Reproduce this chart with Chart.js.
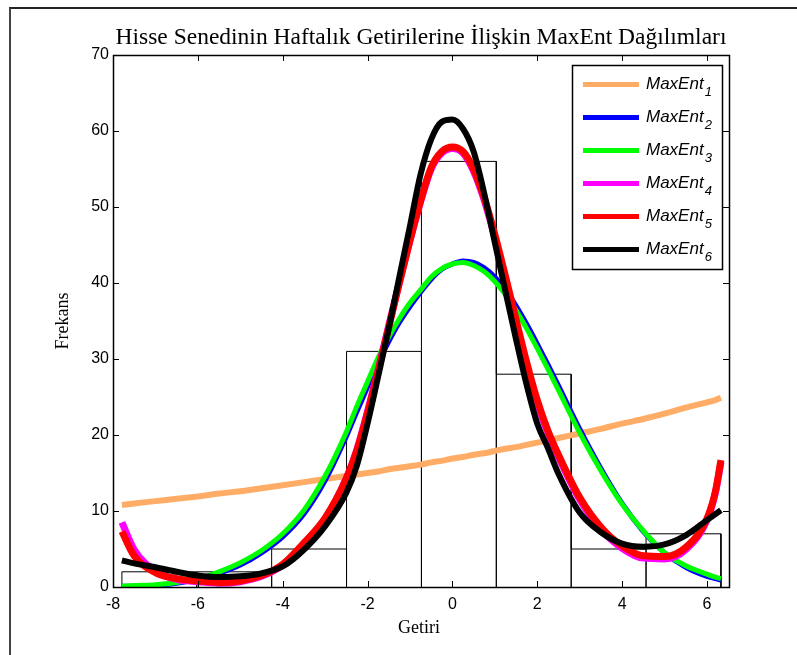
<!DOCTYPE html>
<html>
<head>
<meta charset="utf-8">
<script src="https://cdn.jsdelivr.net/npm/chart.js@4/dist/chart.umd.min.js"></script>
<style>
  html, body { margin: 0; padding: 0; background: #fff; }
  #wrap { position: relative; width: 797px; height: 655px; overflow: hidden; background: #fff; }
  #frame { position: absolute; left: 9px; top: 7px; width: 800px; height: 660px;
           border-left: 2px solid #444; border-top: 2px solid #222; }
  #c { position: absolute; left: 0; top: 0; }
</style>
</head>
<body>
<div id="wrap">
  <div id="frame"></div>
  <canvas id="c" width="797" height="655"></canvas>
</div>
<script>
// Weekly returns grid (Getiri) on which each MaxEnt density is evaluated
const xs = [-7.79, -7.5, -7, -6.5, -6, -5.5, -5, -4.5, -4, -3.5, -3, -2.5, -2.25, -2, -1.75, -1.5, -1.25, -1,
            -0.75, -0.5, -0.25, 0, 0.25, 0.5, 0.75, 1, 1.25, 1.5, 1.75, 2, 2.25, 2.5, 3, 3.5, 4, 4.5, 5, 5.5, 6, 6.2, 6.33];

// Fitted MaxEnt frequency curves
const maxEnt1 = [10.8, 11.0, 11.3, 11.6, 11.9, 12.3, 12.6, 13.0, 13.4, 13.8, 14.2, 14.6, 14.8, 15.0, 15.2, 15.5, 15.7, 15.9,
                 16.1, 16.4, 16.6, 16.9, 17.1, 17.4, 17.6, 17.9, 18.2, 18.4, 18.7, 19.0, 19.3, 19.6, 20.2, 20.8, 21.5, 22.1, 22.8, 23.6, 24.3, 24.6, 24.9];
const maxEnt2 = [0.1, 0.1, 0.2, 0.5, 1.0, 1.8, 2.9, 4.5, 6.6, 9.6, 14.0, 19.8, 23.1, 26.3, 29.5, 32.3, 34.8, 36.9,
                 38.8, 40.5, 41.8, 42.5, 42.9, 42.7, 42.0, 40.8, 39.1, 37.0, 34.6, 32.0, 29.3, 26.5, 20.8, 15.6, 11.0, 7.3, 4.5, 2.6, 1.4, 1.1, 0.9];
const maxEnt3 = [0.1, 0.2, 0.3, 0.6, 1.1, 2.0, 3.2, 4.8, 7.0, 10.1, 14.6, 20.4, 23.8, 27.0, 30.2, 32.9, 35.3, 37.4,
                 39.1, 40.8, 41.9, 42.5, 42.7, 42.3, 41.5, 40.2, 38.5, 36.4, 34.0, 31.4, 28.7, 25.9, 20.3, 15.3, 10.9, 7.4, 4.5, 2.8, 1.7, 1.3, 1.1];
const maxEnt4 = [8.5, 4.9, 2.1, 1.0, 0.7, 0.5, 0.7, 1.4, 2.9, 5.7, 9.0, 14.3, 18.1, 23.1, 28.6, 34.4, 40.1, 45.6,
                 50.7, 55.0, 57.1, 57.7, 57.1, 54.7, 50.9, 46.0, 40.5, 34.8, 29.2, 24.2, 20.3, 17.1, 11.5, 7.6, 5.1, 3.8, 3.7, 4.9, 8.8, 12.4, 16.4];
const maxEnt5 = [7.3, 4.1, 1.9, 1.1, 0.8, 0.6, 0.8, 1.5, 3.0, 5.8, 9.1, 14.3, 18.0, 22.9, 28.4, 34.2, 40.0, 45.6,
                 50.8, 55.2, 57.3, 57.9, 57.3, 55.0, 51.2, 46.4, 40.9, 35.2, 29.6, 24.6, 20.6, 17.4, 11.8, 7.9, 5.4, 4.1, 4.0, 5.2, 9.0, 12.6, 16.7];
const maxEnt6 = [3.5, 3.1, 2.6, 2.0, 1.5, 1.3, 1.4, 1.8, 2.7, 4.9, 8.0, 12.4, 16.0, 21.5, 27.7, 34.0, 40.8, 47.5,
                 54.3, 58.9, 61.2, 61.5, 60.3, 57.3, 51.8, 45.3, 38.9, 32.6, 26.6, 21.5, 18.3, 14.9, 9.8, 7.2, 5.7, 5.3, 5.6, 6.8, 8.8, 9.6, 10.1];

// Histogram of observed weekly returns
const binEdges  = [-7.79, -6.025, -4.26, -2.495, -0.73, 1.035, 2.8, 4.565, 6.33];
const binCounts = [2, 2, 5, 31, 56, 28, 5, 7];

// Axis ticks
const xTicks = [-8, -6, -4, -2, 0, 2, 4, 6];
const yTicks = [0, 10, 20, 30, 40, 50, 60, 70];

// Texts
const titleText = 'Hisse Senedinin Haftalık Getirilerine İlişkin MaxEnt Dağılımları';
const xTitle = 'Getiri';
const yTitle = 'Frekans';
const legendBase = 'MaxEnt';
const legendSubs = ['1', '2', '3', '4', '5', '6'];

const curveValues = [maxEnt1, maxEnt2, maxEnt3, maxEnt4, maxEnt5, maxEnt6];
const curveColors = ['#FFAD66', '#0000FF', '#00FF00', '#FF00FF', '#FF0000', '#000000'];
const curveWidths = [6, 5, 5, 7, 7, 6];

// Outline of the histogram bars as one polyline
function histogramOutline() {
  const pts = [{ x: binEdges[0], y: 0 }];
  for (let i = 0; i < binCounts.length; i++) {
    pts.push({ x: binEdges[i], y: binCounts[i] });
    pts.push({ x: binEdges[i + 1], y: binCounts[i] });
    pts.push({ x: binEdges[i + 1], y: 0 });
  }
  return pts;
}

const datasets = [{
  label: 'Histogram',
  data: histogramOutline(),
  borderColor: '#000',
  borderWidth: 1,
  pointRadius: 0,
  tension: 0,
  fill: false,
  order: 10
}];
curveValues.forEach((vals, i) => {
  datasets.push({
    label: legendBase + legendSubs[i],
    data: xs.map((x, k) => ({ x: x, y: vals[k] })),
    borderColor: curveColors[i],
    borderWidth: curveWidths[i],
    pointRadius: 0,
    cubicInterpolationMode: 'monotone',
    borderJoinStyle: 'round',
    fill: false,
    order: 6 - i
  });
});

// Frame: box around the plot with inward ticks on all four sides
const boxTicks = {
  id: 'boxTicks',
  afterDatasetsDraw(chart) {
    const { ctx, chartArea: a, scales } = chart;
    const len = 6;
    ctx.save();
    ctx.strokeStyle = '#000';
    ctx.lineWidth = 1;
    ctx.beginPath();
    xTicks.forEach(v => {
      const px = Math.round(scales.x.getPixelForValue(v)) + 0.5;
      ctx.moveTo(px, a.bottom); ctx.lineTo(px, a.bottom - len);
      ctx.moveTo(px, a.top); ctx.lineTo(px, a.top + len);
    });
    yTicks.forEach(v => {
      const py = Math.round(scales.y.getPixelForValue(v)) + 0.5;
      ctx.moveTo(a.left, py); ctx.lineTo(a.left + len, py);
      ctx.moveTo(a.right, py); ctx.lineTo(a.right - len, py);
    });
    ctx.stroke();
    ctx.lineWidth = 1.5;
    ctx.strokeRect(Math.round(a.left) + 0.5, Math.round(a.top) + 0.5,
                   Math.round(a.right - a.left), Math.round(a.bottom - a.top));
    ctx.restore();
  }
};

// Legend box in the upper right corner with subscripted entries
const maxEntLegend = {
  id: 'maxEntLegend',
  afterDraw(chart) {
    const { ctx, chartArea: a } = chart;
    const boxW = 150, boxH = 204;
    const bx = a.right - 7 - boxW, by = a.top + 10;
    ctx.save();
    ctx.fillStyle = '#fff';
    ctx.fillRect(bx, by, boxW, boxH);
    ctx.strokeStyle = '#000';
    ctx.lineWidth = 1.5;
    ctx.strokeRect(bx + 0.5, by + 0.5, boxW, boxH);
    const step = 33;
    for (let i = 0; i < legendSubs.length; i++) {
      const cy = by + 19.5 + i * step;
      ctx.strokeStyle = curveColors[i];
      ctx.lineWidth = 5;
      ctx.beginPath();
      ctx.moveTo(bx + 11, cy);
      ctx.lineTo(bx + 67, cy);
      ctx.stroke();
      ctx.fillStyle = '#000';
      ctx.textBaseline = 'alphabetic';
      ctx.textAlign = 'left';
      ctx.font = 'italic 17px "Liberation Sans", Arial, sans-serif';
      const tx = bx + 74;
      ctx.fillText(legendBase, tx, cy + 4);
      const w = ctx.measureText(legendBase).width;
      ctx.font = 'italic 13px "Liberation Sans", Arial, sans-serif';
      ctx.fillText(legendSubs[i], tx + w + 1, cy + 11);
    }
    ctx.restore();
  }
};

// Title and axis titles in serif type
const serifTitles = {
  id: 'serifTitles',
  afterDraw(chart) {
    const { ctx, chartArea: a } = chart;
    const cx = (a.left + a.right) / 2;
    ctx.save();
    ctx.fillStyle = '#000';
    ctx.textAlign = 'center';
    ctx.textBaseline = 'alphabetic';
    ctx.font = '23.5px "Liberation Serif", "Times New Roman", serif';
    ctx.fillText(titleText, cx, a.top - 11);
    ctx.font = '18px "Liberation Serif", "Times New Roman", serif';
    ctx.fillText(xTitle, cx - 2, a.bottom + 46);
    ctx.translate(68, (a.top + a.bottom) / 2);
    ctx.rotate(-Math.PI / 2);
    ctx.fillText(yTitle, 0, 0);
    ctx.restore();
  }
};

new Chart(document.getElementById('c'), {
  type: 'line',
  data: { datasets },
  options: {
    responsive: false,
    animation: false,
    devicePixelRatio: 1,
    layout: { padding: { left: 0, top: 55, right: 68, bottom: 0 } },
    plugins: { legend: { display: false }, tooltip: { enabled: false }, title: { display: false } },
    scales: {
      x: {
        type: 'linear', min: -8, max: 6.52,
        afterBuildTicks: s => { s.ticks = xTicks.map(v => ({ value: v })); },
        afterFit: s => { s.height = 68; },
        grid: { display: false, drawTicks: false },
        border: { display: false },
        ticks: { color: '#000', padding: 8, maxRotation: 0, autoSkip: false,
                 font: { family: '"Liberation Sans", Arial, sans-serif', size: 16 } }
      },
      y: {
        type: 'linear', min: 0, max: 70,
        afterBuildTicks: s => { s.ticks = yTicks.map(v => ({ value: v })); },
        afterFit: s => { s.width = 113; },
        grid: { display: false, drawTicks: false },
        border: { display: false },
        ticks: { color: '#000', padding: 4, autoSkip: false,
                 font: { family: '"Liberation Sans", Arial, sans-serif', size: 16 } }
      }
    }
  },
  plugins: [boxTicks, maxEntLegend, serifTitles]
});
</script>
</body>
</html>
